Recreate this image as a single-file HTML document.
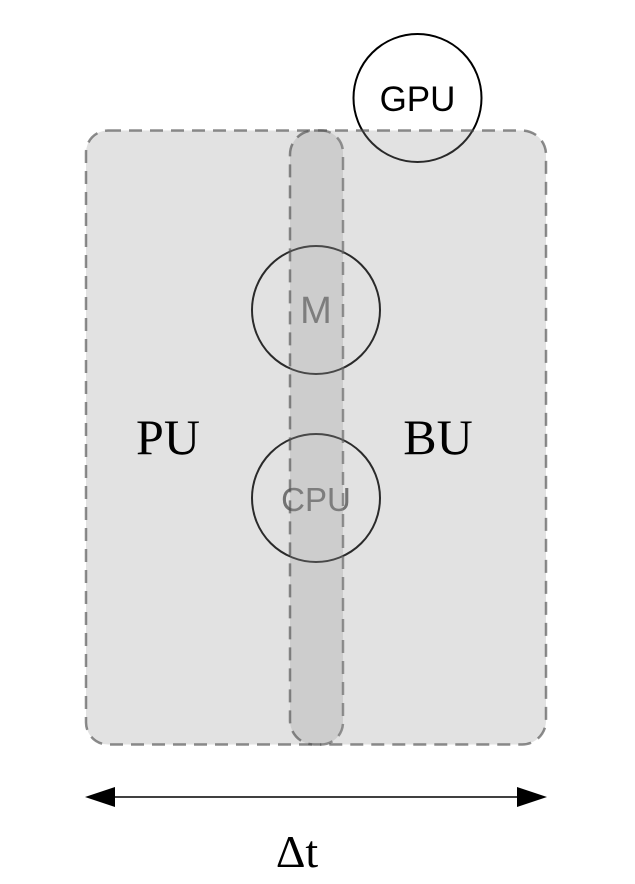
<!DOCTYPE html>
<html><head><meta charset="utf-8"><style>html,body{margin:0;padding:0;background:#fff}svg{display:block}</style></head>
<body>
<svg width="635" height="884" viewBox="0 0 635 884" xmlns="http://www.w3.org/2000/svg">
<g fill="none" stroke="#000" stroke-width="2">
<circle cx="417.5" cy="98" r="64"/>
<circle cx="316" cy="310" r="64"/>
<circle cx="316" cy="498" r="64"/>
</g>
<g font-family="Liberation Sans, sans-serif" text-anchor="middle" fill="#000">
<text x="417.5" y="111" font-size="35">GPU</text>
<text x="316" y="323" font-size="38" fill="#666">M</text>
<text x="316" y="511" font-size="33" fill="#666">CPU</text>
</g>
<g fill="rgba(150,150,150,0.28)" stroke="rgba(80,80,80,0.65)" stroke-width="2.5" stroke-dasharray="13 8">
<rect x="86" y="130.5" width="257" height="614" rx="22"/>
<rect x="290" y="130.5" width="256" height="614" rx="24"/>
</g>
<g font-family="Liberation Serif, serif" font-size="50" fill="#000" text-anchor="middle">
<text x="168" y="454">PU</text>
<text x="438" y="454">BU</text>
<text x="297" y="867" font-size="46">Δt</text>
</g>
<line x1="110" y1="797" x2="522" y2="797" stroke="#000" stroke-width="1.5"/>
<polygon points="85,797 115,787 115,807" fill="#000"/>
<polygon points="547,797 517,787 517,807" fill="#000"/>
</svg>
</body></html>
